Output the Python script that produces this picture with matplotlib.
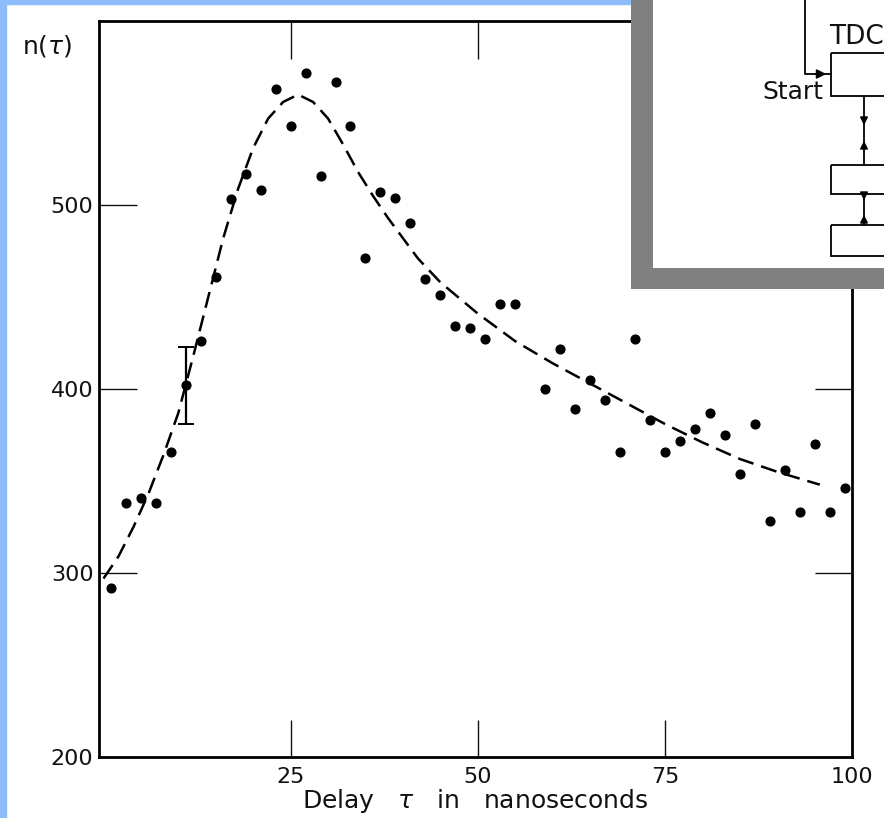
import matplotlib
matplotlib.use("Agg")
import matplotlib.pyplot as plt
import matplotlib.patches as mpatches
import numpy as np

plt.rcParams["font.family"] = ["DejaVu Sans"]

# measured points, delay in ns vs counts
delay = [1, 3, 5, 7, 9, 11, 13, 15, 17, 19, 21, 23, 25, 27, 29, 31, 33, 35, 37, 39,
         41, 43, 45, 47, 49, 51, 53, 55, 59, 61, 63, 65, 67, 69, 71, 73, 75, 77, 79,
         81, 83, 85, 87, 89, 91, 93, 95, 97, 99]
counts = [292, 338, 341, 338, 366, 402, 426, 461, 503, 517, 508, 563, 543, 572, 516,
          567, 543, 471, 507, 504, 490, 460, 451, 434, 433, 427, 446, 446, 400, 422,
          389, 405, 394, 366, 427, 383, 366, 372, 378, 387, 375, 354, 381, 328, 356,
          333, 370, 333, 346]

# fitted curve (dashed)
fit_x = [0, 2, 4, 6, 8, 10, 12, 14, 16, 18, 20, 22, 24, 26, 28, 30, 32, 34, 36, 38,
         40, 42, 45, 50, 55, 60, 65, 70, 75, 80, 85, 90, 95.7]
fit_y = [297, 309, 325, 343, 364, 387, 418, 450, 482, 509, 531, 547, 556, 560, 556,
         547, 533, 518, 505, 493, 482, 471, 458, 441, 426, 414, 403, 392, 381, 371,
         362, 355, 348]

# single representative error bar
err_x = [11]
err_y = [402]
err_size = [21]

x_ticks = [25, 50, 75, 100]
y_ticks = [200, 300, 400, 500]

W, H = 884, 818
fig = plt.figure(figsize=(W / 100, H / 100), dpi=100)
fig.patch.set_facecolor("white")

# blue slide border (left and top)
fig.patches.append(mpatches.Rectangle((0, 0), 6 / W, 1, transform=fig.transFigure,
                                      color="#8cbcfa", zorder=-1))
fig.patches.append(mpatches.Rectangle((0, 1 - 4 / H), 1, 4 / H, transform=fig.transFigure,
                                      color="#8cbcfa", zorder=-1))

ax = fig.add_axes([99 / W, 1 - 757 / H, (852 - 99) / W, (757 - 21) / H])
ax.plot(fit_x, fit_y, color="black", lw=1.8, dashes=(6.5, 3.2), zorder=2)
ax.plot(delay, counts, "o", color="black", ms=6.3, zorder=3)
ax.errorbar(err_x, err_y, yerr=err_size, fmt="none", ecolor="black",
            elinewidth=1.6, capsize=6, capthick=1.4, zorder=3)

ax.set_xlim(-0.6, 100)
ax.set_ylim(200, 600)
ax.set_xticks(x_ticks)
ax.set_xticklabels(["25", "50", "75", "100"])
ax.set_yticks(y_ticks)
for s in ax.spines.values():
    s.set_linewidth(2)
ax.tick_params(direction="in", length=27, width=1, top=True, right=True,
               labelsize=16, colors="#111111")
ax.tick_params(axis="x", pad=7)
ax.tick_params(axis="y", pad=4)
ax.set_xlabel("Delay   $\\tau$   in   nanoseconds", fontsize=18, labelpad=0,
              color="#111111")

fig.text(22 / W, 1 - 46 / H, r"n($\tau$)", fontsize=18, va="center", ha="left",
         color="#111111")

# inset block diagram in top right corner
ins = fig.add_axes([631 / W, 1 - 289 / H, (W - 631) / W, 289 / H])
ins.set_xlim(631, W)
ins.set_ylim(289, 0)
ins.axis("off")
ins.add_patch(mpatches.Rectangle((631, 0), W - 631, 289, facecolor="#808080",
                                 edgecolor="none"))
ins.add_patch(mpatches.Rectangle((653, 0), W - 653, 268, facecolor="white",
                                 edgecolor="none"))
lk = dict(color="black", lw=1.3)
ins.plot([805, 805, 831], [0, 74, 74], **lk)
ins.annotate("", xy=(829, 74), xytext=(812, 74),
             arrowprops=dict(arrowstyle="-|>", color="black", lw=1.2, mutation_scale=14))
for top, bot in [(53, 96), (165, 194), (225, 256)]:
    ins.add_patch(mpatches.Rectangle((831, top), 80, bot - top, facecolor="none",
                                     edgecolor="black", lw=1.3))
ins.plot([864, 864], [96, 165], **lk)
ins.plot([864, 864], [194, 225], **lk)
for y0, y1 in [(115, 128), (152, 138), (196, 203), (223, 212)]:
    ins.annotate("", xy=(864, y1), xytext=(864, y0),
                 arrowprops=dict(arrowstyle="-|>", color="black", lw=1, mutation_scale=12))
ins.text(829, 37, "TDC", fontsize=19, ha="left", va="center", color="#111111")
ins.text(823, 92, "Start", fontsize=18, ha="right", va="center", color="#111111")

fig.savefig("out.png", dpi=100)
